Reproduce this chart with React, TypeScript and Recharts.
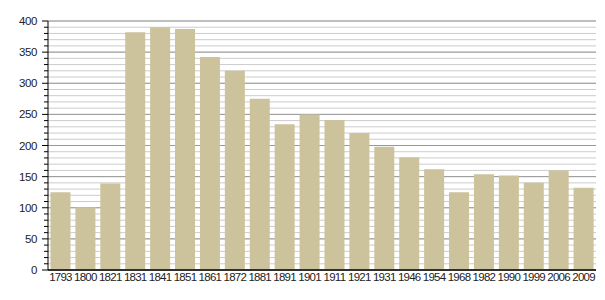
import React from 'react';
import { BarChart, Bar, XAxis, YAxis, CartesianGrid } from 'recharts';

const years = ['1793','1800','1821','1831','1841','1851','1861','1872','1881','1891','1901','1911','1921','1931','1946','1954','1968','1982','1990','1999','2006','2009'];
const population = [125,101,139,382,390,387,342,320,275,234,250,241,220,198,181,162,125,154,152,140,160,132];
const yTicks = [0,10,20,30,40,50,60,70,80,90,100,110,120,130,140,150,160,170,180,190,200,210,220,230,240,250,260,270,280,290,300,310,320,330,340,350,360,370,380,390,400];
const majorTicks = [0,50,100,150,200,250,300,350,400];

const data = years.map((y, i) => ({ year: y, value: population[i] }));

const FONT = 'Liberation Sans, Arial, sans-serif';

const YTick = (props: any) => {
  const { x, y, payload } = props;
  const v = payload.value;
  const major = v % 50 === 0;
  const ax = x + 6;
  return (
    <g>
      <line x1={ax - (major ? 6 : 4)} x2={ax} y1={y} y2={y} stroke="#000" strokeWidth={1} />
      {major && (
        <text x={ax - 11} y={y} dy={4} textAnchor="end" fontSize={11.5} fill="#222" fontFamily={FONT} letterSpacing={-0.4}>{v}</text>
      )}
    </g>
  );
};

const XTick = (props: any) => {
  const { x, y, payload } = props;
  return (
    <text x={x} y={y} dy={9} textAnchor="middle" fontSize={11.5} fill="#222" fontFamily={FONT} letterSpacing={-0.75}>{payload.value}</text>
  );
};

export default function App() {
  return (
    <div style={{ position: 'absolute', left: 0, top: 0 }}>
      <BarChart width={605} height={300} data={data} margin={{ top: 21, right: 9, bottom: 0, left: 0 }} barCategoryGap="10%">
        <CartesianGrid vertical={false} horizontalValues={yTicks} stroke="#cccccc" strokeWidth={1} />
        <CartesianGrid vertical={false} horizontalValues={majorTicks} stroke="#999999" strokeWidth={1} />
        <XAxis dataKey="year" interval={0} tickLine={false} axisLine={{ stroke: '#000', strokeWidth: 1.5 }} tick={<XTick />} tickSize={0} tickMargin={2} height={30} />
        <YAxis domain={[0, 400]} ticks={yTicks} interval={0} width={48} tickLine={false} axisLine={{ stroke: '#000', strokeWidth: 1 }} tick={<YTick />} tickSize={0} tickMargin={6} />
        <Bar dataKey="value" fill="#ccc29c" isAnimationActive={false} />
      </BarChart>
    </div>
  );
}
